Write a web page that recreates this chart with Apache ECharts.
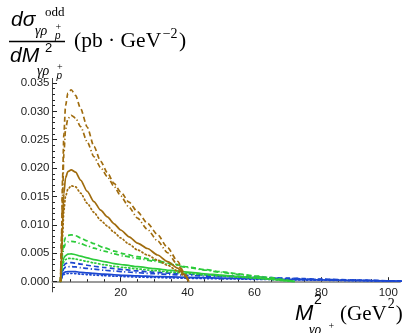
<!DOCTYPE html>
<html>
<head>
<meta charset="utf-8">
<script src="https://cdn.jsdelivr.net/npm/echarts@6/dist/echarts.min.js"></script>
<style>
html,body{margin:0;padding:0;background:#fff;}
#c{width:407px;height:333px;}
</style>
</head>
<body>
<div id="c"></div>
<script>
// ---- data ----
const brownX = [2.0, 2.3, 2.6, 3.0, 3.5, 4.2, 5.2, 6.5, 8, 10, 12, 14, 16, 18, 20, 22.5, 25, 28, 31, 34, 37, 39, 40.4];
const brownSolid = [0, 0.0045, 0.0100, 0.0155, 0.0183, 0.0194, 0.0197, 0.0193, 0.0179, 0.0159, 0.0141, 0.0126, 0.0114, 0.0102, 0.0091, 0.0079, 0.0068, 0.00585, 0.0047, 0.00355, 0.0024, 0.0013, 0];
const brownDotted = [0, 0.0035, 0.0080, 0.0125, 0.0150, 0.0163, 0.0169, 0.0167, 0.0156, 0.0138, 0.0122, 0.0108, 0.0098, 0.0087, 0.0077, 0.0066, 0.0056, 0.0047, 0.0038, 0.0029, 0.0019, 0.0010, 0];
const brownDashed = [0, 0.008, 0.018, 0.026, 0.031, 0.0332, 0.0338, 0.0328, 0.0305, 0.0272, 0.0238, 0.0212, 0.0192, 0.0173, 0.0158, 0.0140, 0.0123, 0.0103, 0.0083, 0.0060, 0.0036, 0.0015, 0];
const brownDotDash = [0, 0.007, 0.015, 0.0225, 0.0268, 0.0287, 0.0293, 0.0288, 0.0273, 0.0246, 0.0220, 0.0201, 0.0185, 0.0168, 0.0151, 0.0131, 0.0112, 0.0092, 0.0072, 0.0051, 0.0030, 0.0014, 0];

const greenX = [2.0, 2.3, 2.6, 3.0, 3.5, 4.2, 5.2, 6.5, 8, 10, 12, 15, 18, 21, 25, 30, 35, 40, 45, 50, 55, 60, 65, 69, 72];
const greenDashed = [0, 0.003, 0.0055, 0.0070, 0.0078, 0.00815, 0.00825, 0.0081, 0.0077, 0.0072, 0.0067, 0.0060, 0.0054, 0.0049, 0.0044, 0.0038, 0.0032, 0.0026, 0.00215, 0.00175, 0.0014, 0.00105, 0.0007, 0.00035, 0];
const greenDotDash = [0, 0.0025, 0.0047, 0.0060, 0.0067, 0.0070, 0.0071, 0.0070, 0.0067, 0.0063, 0.0059, 0.0054, 0.0049, 0.0045, 0.0041, 0.0036, 0.00305, 0.0025, 0.00205, 0.00165, 0.0013, 0.00095, 0.0006, 0.0003, 0];
const greenSolid = [0, 0.0020, 0.0034, 0.0042, 0.0046, 0.00485, 0.0049, 0.00475, 0.0045, 0.0042, 0.0039, 0.00355, 0.0032, 0.00295, 0.00265, 0.0023, 0.0020, 0.0017, 0.0014, 0.00115, 0.00095, 0.0007, 0.00045, 0.0002, 0];
const greenDotted = [0, 0.0017, 0.0029, 0.0035, 0.0039, 0.0041, 0.0041, 0.0040, 0.0038, 0.00355, 0.0033, 0.0030, 0.0027, 0.0025, 0.00225, 0.00195, 0.0017, 0.00145, 0.0012, 0.001, 0.0008, 0.0006, 0.0004, 0.00018, 0];

const blueX = [2.0, 2.3, 2.6, 3.0, 3.5, 4.2, 5.2, 6.5, 8, 10, 12, 15, 18, 21, 25, 30, 35, 40, 45, 50, 60, 70, 80, 90, 100, 104];
const blueDashed = [0, 0.0013, 0.0023, 0.0029, 0.0032, 0.00333, 0.00335, 0.00328, 0.0031, 0.0029, 0.00272, 0.0025, 0.0023, 0.00212, 0.0019, 0.00168, 0.0015, 0.00132, 0.00118, 0.00105, 0.00082, 0.00062, 0.00045, 0.0003, 0.00017, 0.00012];
const blueDotDash = [0, 0.001, 0.0018, 0.0023, 0.00255, 0.00263, 0.00265, 0.0026, 0.00248, 0.00233, 0.0022, 0.00203, 0.00188, 0.00174, 0.00158, 0.0014, 0.00126, 0.00112, 0.001, 0.0009, 0.00072, 0.00055, 0.0004, 0.00027, 0.00015, 0.0001];
const blueSolid = [0, 0.0007, 0.00125, 0.00158, 0.00172, 0.00178, 0.0018, 0.00176, 0.00166, 0.00155, 0.00145, 0.00133, 0.00122, 0.00112, 0.00102, 0.00092, 0.00084, 0.00077, 0.0007, 0.00064, 0.00053, 0.00042, 0.00032, 0.00022, 0.00013, 0.0001];
const blueDotted = [0, 0.00055, 0.001, 0.00127, 0.00139, 0.00144, 0.00145, 0.00142, 0.00134, 0.00125, 0.00117, 0.00107, 0.00098, 0.0009, 0.00082, 0.00074, 0.00067, 0.00061, 0.00056, 0.00051, 0.00042, 0.00034, 0.00026, 0.00018, 0.00011, 0.00008];

const xMajorTicks = [20, 40, 60, 80, 100];
const xMinorTicks = [5, 10, 15, 25, 30, 35, 45, 50, 55, 65, 70, 75, 85, 90, 95];
const yMajorTicks = [0, 0.005, 0.010, 0.015, 0.020, 0.025, 0.030, 0.035];
const yMinorTicks = [0.001, 0.002, 0.003, 0.004, 0.006, 0.007, 0.008, 0.009, 0.011, 0.012, 0.013, 0.014, 0.016, 0.017, 0.018, 0.019, 0.021, 0.022, 0.023, 0.024, 0.026, 0.027, 0.028, 0.029, 0.031, 0.032, 0.033, 0.034];
const yBelowTicks = [-0.001];

// ---- styles ----
const COLORS = { brown: '#A06C0E', green: '#2CCB3A', blue: '#1C47D0' };
const DASH = { solid: 'solid', dashed: [5, 3], dotdash: [5, 2.5, 1.2, 2.5], dotted: [1.2, 2.6] };

function pairs(xs, ys) { return xs.map((x, i) => [x, ys[i]]); }
function mk(name, xs, ys, color, dash) {
  return {
    name, type: 'line', data: pairs(xs, ys), showSymbol: false, symbol: 'none',
    smooth: 0.25, smoothMonotone: 'x', clip: true,
    lineStyle: { color, width: 1.7, type: dash, cap: dash === DASH.dotted ? 'round' : 'butt' },
    xAxisIndex: 0, yAxisIndex: 0, animation: false, z: 3
  };
}

const series = [
  mk('blueDotted', blueX, blueDotted, COLORS.blue, DASH.dotted),
  mk('blueDotDash', blueX, blueDotDash, COLORS.blue, DASH.dotdash),
  mk('blueDashed', blueX, blueDashed, COLORS.blue, DASH.dashed),
  mk('blueSolid', blueX, blueSolid, COLORS.blue, DASH.solid),
  mk('greenDotted', greenX, greenDotted, COLORS.green, DASH.dotted),
  mk('greenDotDash', greenX, greenDotDash, COLORS.green, DASH.dotdash),
  mk('greenDashed', greenX, greenDashed, COLORS.green, DASH.dashed),
  mk('greenSolid', greenX, greenSolid, COLORS.green, DASH.solid),
  mk('brownDotted', brownX, brownDotted, COLORS.brown, DASH.dotted),
  mk('brownDotDash', brownX, brownDotDash, COLORS.brown, DASH.dotdash),
  mk('brownDashed', brownX, brownDashed, COLORS.brown, DASH.dashed),
  mk('brownSolid', brownX, brownSolid, COLORS.brown, DASH.solid)
];

// ---- title text pieces ----
const SANS = '"Liberation Sans", Arial, sans-serif';
const SERIF = '"Liberation Serif", "Times New Roman", serif';
function txt(t, x, baseline, size, fam, style) {
  const f = (style || 'normal') + ' ' + size + 'px ' + fam;
  return { type: 'text', x: x, y: baseline - 0.345 * size, silent: true, z: 10,
    style: { text: t, font: f, fill: '#000', align: 'left', verticalAlign: 'middle' } };
}
const mctx = document.createElement('canvas').getContext('2d');
function w(t, size, fam, style) { mctx.font = (style || 'normal') + ' ' + size + 'px ' + fam; return mctx.measureText(t).width; }

const graphics = [];
// numerator
graphics.push(txt('dσ', 11, 27, 21, SANS, 'italic'));
graphics.push(txt('odd', 45, 17, 13, SERIF));
graphics.push(txt('γρ', 35, 36, 14, SERIF, 'italic'));
graphics.push(txt('+', 55.5, 31, 10, SERIF));
graphics.push(txt('p', 55, 39.5, 10, SANS, 'italic'));
// fraction bar
graphics.push({ type: 'rect', shape: { x: 9, y: 40.8, width: 56, height: 1.5 }, style: { fill: '#000' }, silent: true, z: 10 });
// denominator
graphics.push(txt('dM', 10, 63.5, 21, SANS, 'italic'));
graphics.push(txt('2', 45, 53, 13, SANS));
graphics.push(txt('γρ', 37, 76, 14, SERIF, 'italic'));
graphics.push(txt('+', 57, 70.5, 10, SERIF));
graphics.push(txt('p', 56.5, 79.5, 10, SANS, 'italic'));
// units
(function () {
  let x = 74;
  const a = '(pb · GeV';
  graphics.push(txt(a, x, 49, 21.5, SERIF)); x += w(a, 21.5, SERIF) + 1.5;
  graphics.push(txt('−2', x, 39, 14, SERIF)); x += w('−2', 14, SERIF) + 1.5;
  graphics.push(txt(')', x, 49, 21.5, SERIF));
})();
// x-axis name
graphics.push(txt('M', 295, 321.5, 22, SANS, 'italic'));
graphics.push(txt('2', 314, 305, 14, SANS));
graphics.push(txt('γρ', 309, 335, 14, SERIF, 'italic'));
graphics.push(txt('+', 328.5, 329.5, 10, SERIF));
(function () {
  let x = 340;
  const a = '(GeV';
  graphics.push(txt(a, x, 321.5, 21, SERIF)); x += w(a, 21, SERIF) + 1;
  graphics.push(txt('2', x, 309, 14, SERIF)); x += w('2', 14, SERIF) + 1;
  graphics.push(txt(')', x, 321.5, 21, SERIF));
})();

const X_MIN = -0.4, X_MAX = 103.5, Y_MIN = 0, Y_MAX = 0.0358, Y_BELOW = -0.0018;
const labelFont = { fontFamily: 'Liberation Sans', fontSize: 11.5, color: '#222' };
const tickStyle = { color: '#222', width: 1 };

const option = {
  animation: false,
  backgroundColor: '#fff',
  grid: [
    { left: 52.5, top: 78.4, width: 347.5, height: 203.3, containLabel: false },
    { left: 52.5, top: 281.7, width: 347.5, height: 10.2, containLabel: false }
  ],
  xAxis: [
    { gridIndex: 0, type: 'value', min: X_MIN, max: X_MAX, position: 'bottom',
      axisLine: { show: true, onZero: false, lineStyle: { color: '#9a9a9a', width: 2 } },
      axisTick: { show: true, inside: true, length: 4.5, customValues: xMajorTicks, lineStyle: tickStyle },
      axisLabel: { show: true, customValues: xMajorTicks, margin: 5, ...labelFont },
      splitLine: { show: false } },
    { gridIndex: 0, type: 'value', min: X_MIN, max: X_MAX, position: 'bottom',
      axisLine: { show: false, onZero: false },
      axisTick: { show: true, inside: true, length: 2.5, customValues: xMinorTicks, lineStyle: tickStyle },
      axisLabel: { show: false }, splitLine: { show: false } },
    { gridIndex: 1, type: 'value', min: X_MIN, max: X_MAX, show: false }
  ],
  yAxis: [
    { gridIndex: 0, type: 'value', min: Y_MIN, max: Y_MAX, position: 'left',
      axisLine: { show: true, onZero: false, lineStyle: { color: '#444', width: 1 } },
      axisTick: { show: true, inside: true, length: 4.5, customValues: yMajorTicks, lineStyle: tickStyle },
      axisLabel: { show: true, customValues: yMajorTicks, margin: 3, formatter: v => v.toFixed(3), ...labelFont },
      splitLine: { show: false } },
    { gridIndex: 0, type: 'value', min: Y_MIN, max: Y_MAX, position: 'left',
      axisLine: { show: false, onZero: false },
      axisTick: { show: true, inside: true, length: 2.5, customValues: yMinorTicks, lineStyle: tickStyle },
      axisLabel: { show: false }, splitLine: { show: false } },
    { gridIndex: 1, type: 'value', min: Y_BELOW, max: 0, position: 'left',
      axisLine: { show: true, onZero: false, lineStyle: { color: '#444', width: 1 } },
      axisTick: { show: true, inside: true, length: 2.5, customValues: yBelowTicks, lineStyle: tickStyle },
      axisLabel: { show: false }, splitLine: { show: false } }
  ],
  graphic: graphics,
  series: series
};

const chart = echarts.init(document.getElementById('c'), null, { renderer: 'canvas' });
chart.setOption(option);
</script>
</body>
</html>
